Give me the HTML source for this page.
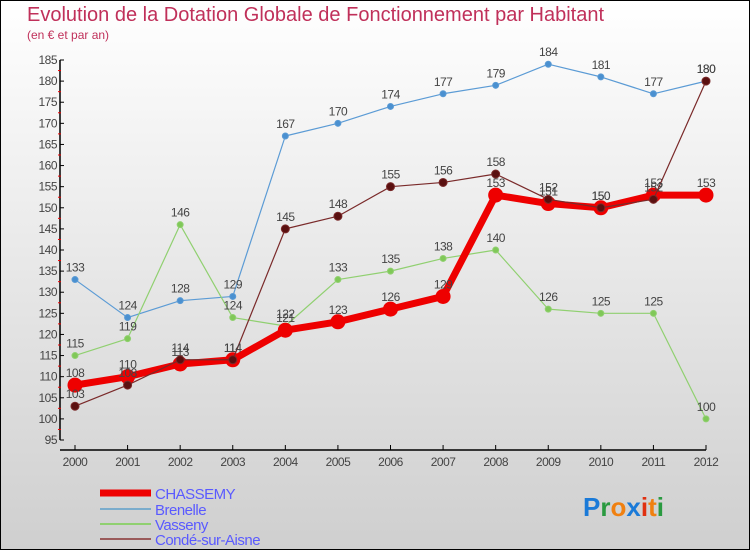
<!DOCTYPE html>
<html><head><meta charset="utf-8">
<style>
html,body{margin:0;padding:0}
body{width:750px;height:550px;overflow:hidden;font-family:"Liberation Sans",sans-serif}
#wrap{position:relative;width:748px;height:548px;border:1px solid #000;background:linear-gradient(#ffffff,#cfcfcf)}
#title{position:absolute;left:26px;top:3px;font-size:20px;color:#c0305a;white-space:nowrap}
#sub{position:absolute;left:26px;top:27px;font-size:12px;color:#c0305a}
</style></head><body>
<div id="wrap">
<div id="title">Evolution de la Dotation Globale de Fonctionnement par Habitant</div>
<div id="sub">(en € et par an)</div>
<svg id="chart" width="750" height="550" style="position:absolute;left:-1px;top:-1px"></svg>
</div>
<script>
const years=["2000","2001","2002","2003","2004","2005","2006","2007","2008","2009","2010","2011","2012"];
const chassemy=[108,110,113,114,121,123,126,129,153,151,150,153,153];
const brenelle=[133,124,128,129,167,170,174,177,179,184,181,177,180];
const vasseny=[115,119,146,124,122,133,135,138,140,126,125,125,100];
const conde=[103,108,114,114,145,148,155,156,158,152,150,152,180];
const yTicks=[95,100,105,110,115,120,125,130,135,140,145,150,155,160,165,170,175,180,185];

const svg=document.getElementById('chart');
const NS='http://www.w3.org/2000/svg';
const X=i=>75+i*(706-75)/12;
const Y=v=>60+(185-v)*(380/90);
function mk(tag,attrs,parent){const e=document.createElementNS(NS,tag);for(const k in attrs)e.setAttribute(k,attrs[k]);(parent||svg).appendChild(e);return e;}

// axes
let ax=mk('line',{x1:60,y1:Y(185),x2:60,y2:Y(95),stroke:'#000','stroke-width':1.5});


let xa=mk('line',{x1:60,y1:450,x2:X(12),y2:450,stroke:'#000','stroke-width':1.5});


yTicks.forEach(v=>{
  mk('line',{x1:60,y1:Y(v),x2:64,y2:Y(v),stroke:'#000'});
  if(v<185)mk('line',{x1:58,y1:Y(v+2.5),x2:61,y2:Y(v+2.5),stroke:'#e00'});
  const t=mk('text',{x:57,y:Y(v)+4,'text-anchor':'end','font-size':12,fill:'#444','letter-spacing':'-0.5'});
  t.textContent=v;
  
  
});
years.forEach((y,i)=>{
  mk('line',{x1:X(i),y1:445,x2:X(i),y2:450,stroke:'#000'});
  const t=mk('text',{x:X(i),y:466,'text-anchor':'middle','font-size':12,fill:'#444','letter-spacing':'-0.5'});
  t.textContent=y;
  
  
});

function series(data,color,dot,w,r,name){
  const g=mk('g',{});
  
  
  mk('polyline',{points:data.map((v,i)=>X(i)+','+Y(v)).join(' '),fill:'none',stroke:color,'stroke-width':w,'stroke-linejoin':'round'},g);
  data.forEach((v,i)=>{
    const c=mk('circle',{cx:X(i),cy:Y(v),r:r,fill:dot,stroke:color,'stroke-width':1},g);
    
    
    const t=mk('text',{x:X(i),y:Y(v)-8,'text-anchor':'middle','font-size':12,fill:'#444','letter-spacing':'-0.5'},g);
    t.textContent=v;
    
    
  });
}
series(brenelle,'#5b9bd5','#4a90d0',1.2,3,'brenelle-series');
series(vasseny,'#90d070','#80c858',1.2,3,'vasseny-series');
series(chassemy,'#ee0000','#ee0000',7,7,'chassemy-series');
series(conde,'#7a2a2a','#5a1010',1.2,4,'conde-series');

// legend
const leg=[['CHASSEMY','#ee0000',7],['Brenelle','#7aaccc',2],['Vasseny','#90d070',2],['Condé-sur-Aisne','#9a5a5a',2]];
const ly=[492,508,523,538];
leg.forEach((l,i)=>{
  const g=mk('g',{});
  
  
  mk('line',{x1:100,y1:ly[i]+1,x2:151,y2:ly[i]+1,stroke:l[1],'stroke-width':l[2]},g);
  const t=mk('text',{x:155,y:ly[i]+7,'font-size':15,fill:'#5a5aff','letter-spacing':'-0.5'},g);
  t.textContent=l[0];
});

// logo
const logo=mk('text',{x:583,y:516,'font-size':26,'font-weight':'bold'});


[['P','#1a7ad8'],['r','#2a9a40'],['o','#f08010'],['x','#1a7ad8'],['i','#e03010'],['t','#f08010'],['i','#2a9a40']].forEach(p=>{
  const s=mk('tspan',{fill:p[1]},logo);s.textContent=p[0];
});
</script>
</body></html>
